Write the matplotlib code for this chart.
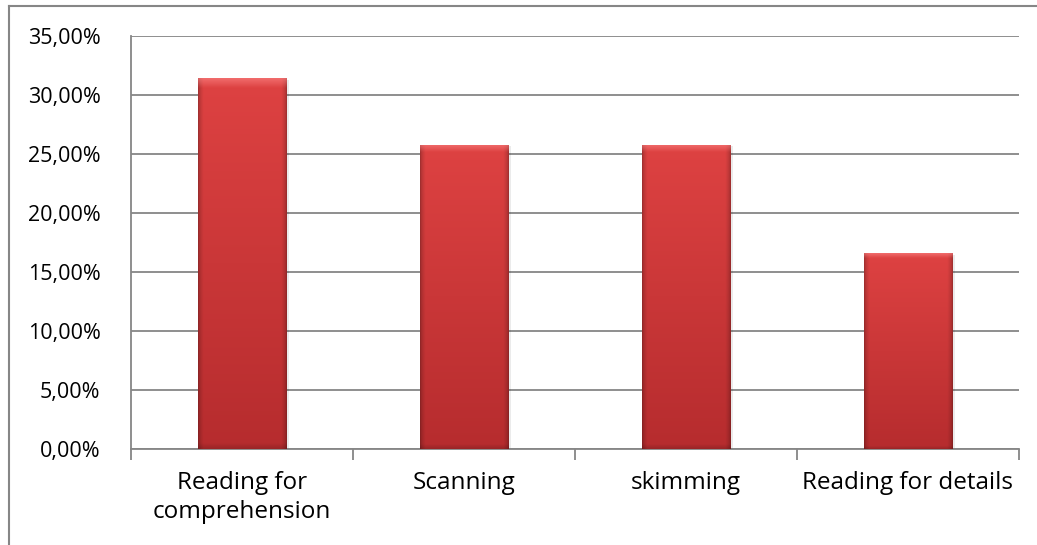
import numpy as np
import matplotlib.pyplot as plt
from matplotlib.lines import Line2D
from matplotlib.ticker import FuncFormatter, MultipleLocator

categories = ['Reading for\ncomprehension', 'Scanning', 'skimming', 'Reading for details']
shares = [31.4, 25.8, 25.8, 16.6]

plt.rcParams['font.family'] = ['Open Sans', 'DejaVu Sans']

fig = plt.figure(figsize=(10.37, 5.45), dpi=100)
ax = fig.add_axes([131 / 1037, 1 - 449 / 545, 888 / 1037, 413 / 545])

x = np.arange(len(categories))
bars = ax.bar(x, shares, width=0.4, color='#d23c3c', zorder=3)


def bar_texture(nx=120, ny=300):
    # horizontal profile: darker rim, lighter core
    u = np.linspace(0, 1, nx)
    edge = np.minimum(u, 1 - u)
    rim = np.clip(edge / 0.06, 0, 1) ** 0.6
    # vertical: light at top, darker toward the base
    v = np.linspace(0, 1, ny)[:, None]
    top = np.array([222, 66, 66]) / 255
    bottom = np.array([182, 44, 46]) / 255
    base = top + (bottom - top) * v[..., None]
    shade = 0.72 + 0.28 * rim[None, :, None]
    img = base * shade
    # bevel highlight along the cap
    cap = np.clip(1 - v / 0.025, 0, 1)[..., None]
    img = img + (np.array([1.0, 0.55, 0.55]) - img) * 0.55 * cap
    # slight darkening on the last rows
    foot = np.clip((v - 0.985) / 0.015, 0, 1)[..., None]
    img = img * (1 - 0.15 * foot)
    return np.clip(img, 0, 1)


tex = bar_texture()
for b in bars:
    x0, w, h = b.get_x(), b.get_width(), b.get_height()
    # faint drop shadow on the right
    ax.bar(x0 + w / 2 + 0.012, h - 0.15, width=w, bottom=0,
           color='#000000', alpha=0.08, zorder=2.5, linewidth=0)
    im = ax.imshow(tex, extent=[x0, x0 + w, 0, h], aspect='auto',
                   origin='upper', zorder=3.5, interpolation='bilinear')
    im.set_clip_path(b)

ax.set_xlim(-0.5, len(categories) - 0.5)
ax.set_ylim(0, 35)
ax.yaxis.set_major_locator(MultipleLocator(5))
ax.yaxis.set_major_formatter(FuncFormatter(lambda v, p: f'{v:.2f}%'.replace('.', ',')))
ax.grid(axis='y', color='#868686', linewidth=1.3, zorder=0)
ax.set_axisbelow(True)

for side in ['top', 'right']:
    ax.spines[side].set_visible(False)
for side in ['left', 'bottom']:
    ax.spines[side].set_color('#868686')
    ax.spines[side].set_linewidth(1.3)

ax.set_xticks(x)
ax.set_xticklabels(categories, fontsize=17.5, linespacing=1.25)
ax.set_xticks(np.arange(-0.5, len(categories)), minor=True)
ax.tick_params(axis='x', which='major', length=0, pad=16)
ax.tick_params(axis='x', which='minor', length=8, width=1.3, color='#868686')
ax.tick_params(axis='y', length=0, pad=22, labelsize=15.5)

# outer chart frame
fig.add_artist(Line2D([9 / 1037, 9 / 1037], [0, 1 - 6 / 545],
                      transform=fig.transFigure, color='#868686', linewidth=1.5))
fig.add_artist(Line2D([9 / 1037, 1], [1 - 6 / 545, 1 - 6 / 545],
                      transform=fig.transFigure, color='#868686', linewidth=1.5))

fig.savefig('out.png', dpi=100)
